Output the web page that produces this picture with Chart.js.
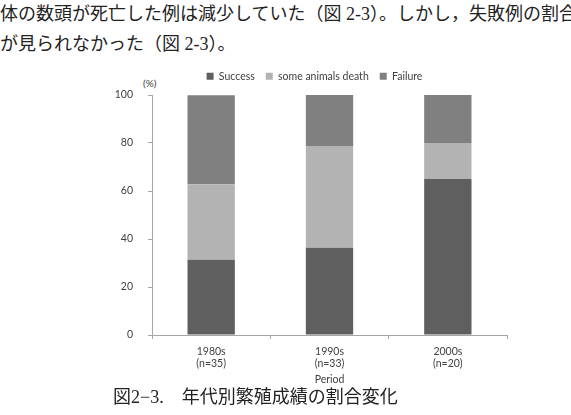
<!DOCTYPE html>
<html>
<head>
<meta charset="utf-8">
<script src="https://cdn.jsdelivr.net/npm/chart.js@4"></script>
<style>
  html, body { margin: 0; padding: 0; background: #fff; }
  body { width: 571px; height: 415px; position: relative; overflow: hidden; }
  .jp { position: absolute; white-space: nowrap; font-family: "Liberation Serif", "Noto Sans CJK JP", serif; color: #222; }
  #line1 { left: 0; top: 3px; font-size: 18px; line-height: 22px; }
  #line2 { left: 0; top: 33px; font-size: 18px; line-height: 22px; }
  #caption { left: 113px; top: 386px; font-size: 18px; line-height: 22px; }
  #unit { position: absolute; left: 143px; top: 77px; font: 10px Lato, sans-serif; color: #404040; }
  #wrap { position: absolute; left: 0; top: 60px; width: 571px; height: 330px; }
</style>
</head>
<body>
<div class="jp" id="line1">体の数頭が死亡した例は減少していた（図 2-3）。しかし，失敗例の割合</div>
<div class="jp" id="line2">が見られなかった（図 2-3）。</div>
<div id="unit">(%)</div>
<div id="wrap"><canvas id="c"></canvas></div>
<div class="jp" id="caption">図2−3.　年代別繁殖成績の割合変化</div>
<script>
// Datos (porcentajes por década)
const periods = [['1980s', '(n=35)'], ['1990s', '(n=33)'], ['2000s', '(n=20)']];
const successVals = [31.4, 36.4, 65.0];
const deathVals = [31.4, 42.4, 15.0];
const failureVals = [37.1, 21.2, 20.0];
const yMin = 0, yMax = 100, yStep = 20;

Chart.defaults.font.family = "Lato, sans-serif";
Chart.defaults.font.size = 10.5;
Chart.defaults.color = '#404040';

const axisColor = '#a6a6a6';

// fija la altura de la leyenda y la centra como en el original
const legendFix = {
    id: 'legendFix',
    beforeInit(chart) {
        const orig = chart.legend.fit;
        chart.legend.fit = function () {
            orig.bind(chart.legend)();
            this.height = 35;
        };
    },
    afterLayout(chart) {
        chart.legend.left += 5;
        chart.legend.right += 5;
    }
};

new Chart(document.getElementById('c').getContext('2d'), {
    type: 'bar',
    data: {
        labels: periods,
        datasets: [
            { label: 'Success', data: successVals, backgroundColor: '#5f5f5f' },
            { label: 'some animals death', data: deathVals, backgroundColor: '#b3b3b3' },
            { label: 'Failure', data: failureVals, backgroundColor: '#808080' }
        ]
    },
    options: {
        responsive: true,
        maintainAspectRatio: false,
        animation: false,
        datasets: {
            bar: { barPercentage: 0.4, categoryPercentage: 1.0 }
        },
        layout: {
            padding: { left: 112, right: 64, top: 0, bottom: 0 }
        },
        plugins: {
            legend: {
                position: 'top',
                labels: {
                    boxWidth: 7,
                    boxHeight: 7,
                    padding: 11,
                    color: '#404040'
                }
            },
            tooltip: { enabled: false }
        },
        scales: {
            x: {
                stacked: true,
                afterFit: (s) => { s.height = 55; },
                grid: {
                    drawOnChartArea: false,
                    drawTicks: true,
                    tickLength: 4,
                    color: axisColor
                },
                border: { color: axisColor },
                ticks: { padding: 6, color: '#404040' },
                title: {
                    display: true,
                    text: 'Period',
                    color: '#404040',
                    padding: { top: 2, bottom: 4 }
                }
            },
            y: {
                stacked: true,
                min: yMin,
                max: yMax,
                afterFit: (s) => { s.width = 40; },
                grid: {
                    drawOnChartArea: false,
                    drawTicks: true,
                    tickLength: 4,
                    color: axisColor
                },
                border: { color: axisColor },
                ticks: { stepSize: yStep, padding: 15, color: '#404040' }
            }
        }
    },
    plugins: [legendFix]
});
</script>
</body>
</html>
